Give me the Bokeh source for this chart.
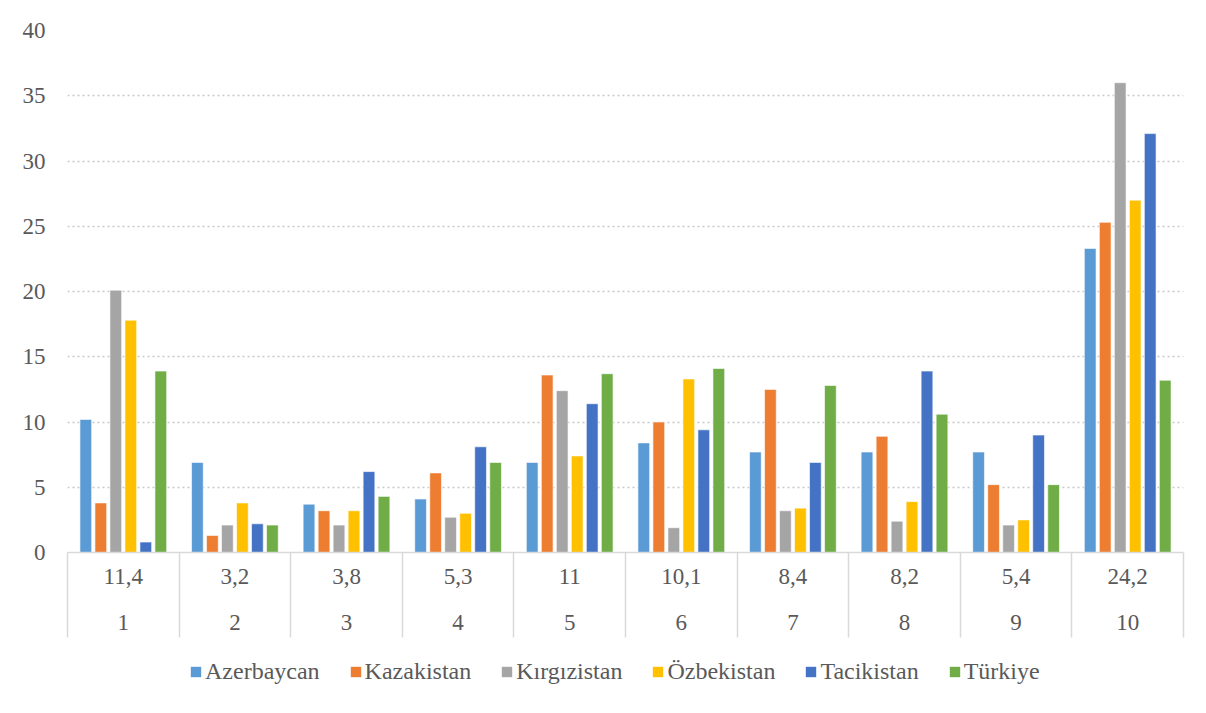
from bokeh.plotting import figure
from bokeh.layouts import column
from bokeh.models import (ColumnDataSource, Range1d, LinearAxis, FixedTicker,
                          Legend, LegendItem)
from bokeh.transform import dodge
from bokeh.embed import file_html
from bokeh.resources import INLINE

# ---- data ----
groups = ["1", "2", "3", "4", "5", "6", "7", "8", "9", "10"]
group_values = ["11,4", "3,2", "3,8", "5,3", "11", "10,1", "8,4", "8,2", "5,4", "24,2"]
series_names = ["Azerbaycan", "Kazakistan", "Kırgızistan", "Özbekistan", "Tacikistan", "Türkiye"]
azerbaycan = [10.2, 6.9, 3.7, 4.1, 6.9, 8.4, 7.7, 7.7, 7.7, 23.3]
kazakistan = [3.8, 1.3, 3.2, 6.1, 13.6, 10.0, 12.5, 8.9, 5.2, 25.3]
kirgizistan = [20.1, 2.1, 2.1, 2.7, 12.4, 1.9, 3.2, 2.4, 2.1, 36.0]
ozbekistan = [17.8, 3.8, 3.2, 3.0, 7.4, 13.3, 3.4, 3.9, 2.5, 27.0]
tacikistan = [0.8, 2.2, 6.2, 8.1, 11.4, 9.4, 6.9, 13.9, 9.0, 32.1]
turkiye = [13.9, 2.1, 4.3, 6.9, 13.7, 14.1, 12.8, 10.6, 5.2, 13.2]
colors = ["#5B9BD5", "#ED7D31", "#A5A5A5", "#FFC000", "#4472C4", "#70AD47"]

series = [azerbaycan, kazakistan, kirgizistan, ozbekistan, tacikistan, turkiye]
n = len(groups)
centers = [i + 0.5 for i in range(n)]
bounds = [float(i) for i in range(n + 1)]

data = {"x": centers}
for k, s in enumerate(series):
    data["s%d" % k] = s
source = ColumnDataSource(data)

FONT = "Liberation Serif"
FS = "23px"
TXT = "#595959"
GRID = "#d9d9d9"

p = figure(frame_width=1116, frame_height=522, output_backend="svg", toolbar_location=None,
           x_range=Range1d(0, n), y_range=Range1d(0, 40),
           x_axis_location=None,
           min_border_left=67, min_border_right=15, min_border_top=30,
           min_border_bottom=100)
p.outline_line_color = None

# y axis
p.yaxis.ticker = FixedTicker(ticks=list(range(0, 41, 5)))
p.yaxis.axis_line_color = None
p.yaxis.major_tick_line_color = None
p.yaxis.minor_tick_line_color = None
p.yaxis.major_label_standoff = 16
p.yaxis.major_label_text_font = FONT
p.yaxis.major_label_text_font_size = FS
p.yaxis.major_label_text_color = TXT

p.xgrid.visible = False
p.ygrid.ticker = FixedTicker(ticks=list(range(5, 41, 5)))
p.ygrid.grid_line_color = "#c8c8c8"
p.ygrid.grid_line_dash = "2 3"
p.ygrid.grid_line_width = 1.5

# bars
pitch = 0.1344
for k in range(len(series)):
    p.vbar(x=dodge("x", (k - 2.5) * pitch, range=p.x_range), top="s%d" % k,
           width=0.105, source=source, fill_color=colors[k],
           line_color="white", line_width=0.6)

# x axis row 1 (values) with category separators as minor ticks
ax1 = LinearAxis(ticker=FixedTicker(ticks=centers, minor_ticks=bounds),
                 major_label_overrides={c: v for c, v in zip(centers, group_values)})
ax1.axis_line_color = GRID
ax1.axis_line_width = 1.5
ax1.major_tick_out = 0
ax1.major_tick_in = 0
ax1.major_tick_line_color = None
ax1.minor_tick_line_color = GRID
ax1.minor_tick_line_width = 1.5
ax1.minor_tick_in = -85
ax1.minor_tick_out = 0
ax1.major_label_standoff = 16
ax1.major_label_text_font = FONT
ax1.major_label_text_font_size = FS
ax1.major_label_text_color = TXT
p.add_layout(ax1, "below")

# x axis row 2 (group numbers)
ax2 = LinearAxis(ticker=FixedTicker(ticks=centers),
                 major_label_overrides={c: g for c, g in zip(centers, groups)})
ax2.axis_line_color = None
ax2.major_tick_out = 0
ax2.major_tick_in = 0
ax2.major_tick_line_color = None
ax2.minor_tick_line_color = None
ax2.major_label_standoff = 28
ax2.major_label_text_font = FONT
ax2.major_label_text_font_size = FS
ax2.major_label_text_color = TXT
p.add_layout(ax2, "below")

# legend strip (separate figure under the chart); swatch glyphs sit outside its range
lf = figure(width=1198, height=58, output_backend="svg", toolbar_location=None,
            x_range=Range1d(0, 1), y_range=Range1d(0, 1),
            x_axis_location=None, y_axis_location=None,
            min_border_left=0, min_border_right=0, min_border_top=0, min_border_bottom=0)
lf.outline_line_color = None
lf.xgrid.visible = False
lf.ygrid.visible = False
items = []
for k, nm in enumerate(series_names):
    r = lf.quad(left=[5], right=[6], bottom=[5], top=[6], fill_color=colors[k], line_color=None)
    items.append(LegendItem(label=nm, renderers=[r]))

legend = Legend(items=items, orientation="horizontal", location=(122, 25))
legend.label_text_font = FONT
legend.label_text_font_size = "24px"
legend.label_text_color = TXT
legend.glyph_width = 13
legend.glyph_height = 13
legend.label_standoff = 3
legend.spacing = 29
legend.margin = 0
legend.padding = 8
legend.border_line_color = None
legend.background_fill_alpha = 0
lf.add_layout(legend, "center")

layout = column(p, lf, spacing=0)

open("out.html", "w").write(file_html(layout, INLINE))
